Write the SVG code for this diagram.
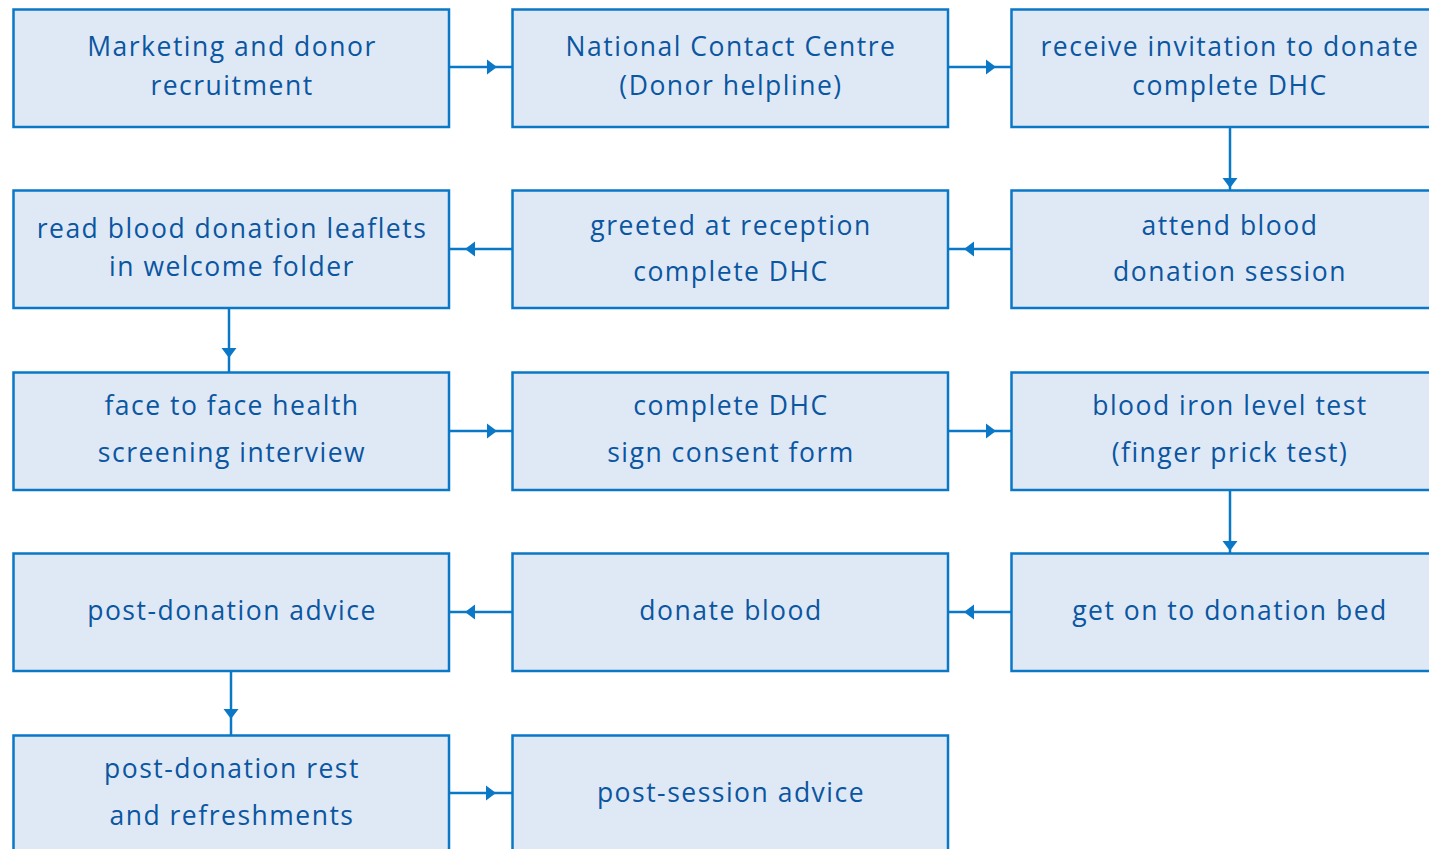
<svg xmlns="http://www.w3.org/2000/svg" xmlns:xlink="http://www.w3.org/1999/xlink" width="1429" height="849" viewBox="0 0 1429 849">
<style>
.box{fill:#dfe9f6;stroke:#0a78c6;stroke-width:2.5}
.t{font-family:"Open Sans","Noto Sans","Liberation Sans",sans-serif;font-size:26.5px;letter-spacing:1.5px;fill:#0b56a1;text-anchor:middle}
.c{stroke:#0a78c6;stroke-width:2.5;fill:none}
.ah{fill:#0a78c6}
</style>
<defs>
<path id="ah" class="ah" d="M0,0 L-10,-7.5 L-10,7.5 Z"/>
</defs>
<rect width="1429" height="849" fill="#ffffff"/>
<g id="connectors">
<line class="c" x1="449" y1="67" x2="512" y2="67"/><use xlink:href="#ah" transform="translate(497,67)"/>
<line class="c" x1="948" y1="67" x2="1011" y2="67"/><use xlink:href="#ah" transform="translate(996,67)"/>
<line class="c" x1="1230" y1="127" x2="1230" y2="190"/><use xlink:href="#ah" transform="translate(1230,188) rotate(90)"/>
<line class="c" x1="1011" y1="249" x2="948" y2="249"/><use xlink:href="#ah" transform="translate(964,249) rotate(180)"/>
<line class="c" x1="512" y1="249" x2="449" y2="249"/><use xlink:href="#ah" transform="translate(465,249) rotate(180)"/>
<line class="c" x1="229" y1="308" x2="229" y2="372"/><use xlink:href="#ah" transform="translate(229,358) rotate(90)"/>
<line class="c" x1="449" y1="431" x2="512" y2="431"/><use xlink:href="#ah" transform="translate(497,431)"/>
<line class="c" x1="948" y1="431" x2="1011" y2="431"/><use xlink:href="#ah" transform="translate(996,431)"/>
<line class="c" x1="1230" y1="490" x2="1230" y2="553"/><use xlink:href="#ah" transform="translate(1230,551) rotate(90)"/>
<line class="c" x1="1011" y1="612" x2="948" y2="612"/><use xlink:href="#ah" transform="translate(964,612) rotate(180)"/>
<line class="c" x1="512" y1="612" x2="449" y2="612"/><use xlink:href="#ah" transform="translate(465,612) rotate(180)"/>
<line class="c" x1="231" y1="671" x2="231" y2="735"/><use xlink:href="#ah" transform="translate(231,719) rotate(90)"/>
<line class="c" x1="449" y1="793" x2="512" y2="793"/><use xlink:href="#ah" transform="translate(496,793)"/>
</g>
<g id="n1"><rect class="box" x="13.5" y="9.5" width="435.5" height="117.5"/><text class="t" x="232" y="56">Marketing and donor</text><text class="t" x="232" y="95">recruitment</text></g>
<g id="n2"><rect class="box" x="512.5" y="9.5" width="435.5" height="117.5"/><text class="t" x="731" y="56">National Contact Centre</text><text class="t" x="731" y="95">(Donor helpline)</text></g>
<g id="n3"><rect class="box" x="1011.5" y="9.5" width="440" height="117.5"/><text class="t" x="1230" y="56">receive invitation to donate</text><text class="t" x="1230" y="95">complete DHC</text></g>
<g id="n4"><rect class="box" x="1011.5" y="190.5" width="440" height="117.5"/><text class="t" x="1230" y="235">attend blood</text><text class="t" x="1230" y="281">donation session</text></g>
<g id="n5"><rect class="box" x="512.5" y="190.5" width="435.5" height="117.5"/><text class="t" x="731" y="235">greeted at reception</text><text class="t" x="731" y="281">complete DHC</text></g>
<g id="n6"><rect class="box" x="13.5" y="190.5" width="435.5" height="117.5"/><text class="t" x="232" y="238">read blood donation leaflets</text><text class="t" x="232" y="276">in welcome folder</text></g>
<g id="n7"><rect class="box" x="13.5" y="372.5" width="435.5" height="117.5"/><text class="t" x="232" y="415">face to face health</text><text class="t" x="232" y="462">screening interview</text></g>
<g id="n8"><rect class="box" x="512.5" y="372.5" width="435.5" height="117.5"/><text class="t" x="731" y="415">complete DHC</text><text class="t" x="731" y="462">sign consent form</text></g>
<g id="n9"><rect class="box" x="1011.5" y="372.5" width="440" height="117.5"/><text class="t" x="1230" y="415">blood iron level test</text><text class="t" x="1230" y="462">(finger prick test)</text></g>
<g id="n10"><rect class="box" x="1011.5" y="553.5" width="440" height="117.5"/><text class="t" x="1230" y="620">get on to donation bed</text></g>
<g id="n11"><rect class="box" x="512.5" y="553.5" width="435.5" height="117.5"/><text class="t" x="731" y="620">donate blood</text></g>
<g id="n12"><rect class="box" x="13.5" y="553.5" width="435.5" height="117.5"/><text class="t" x="232" y="620">post-donation advice</text></g>
<g id="n13"><rect class="box" x="13.5" y="735.5" width="435.5" height="130"/><text class="t" x="232" y="778">post-donation rest</text><text class="t" x="232" y="825">and refreshments</text></g>
<g id="n14"><rect class="box" x="512.5" y="735.5" width="435.5" height="130"/><text class="t" x="731" y="802">post-session advice</text></g>
</svg>
